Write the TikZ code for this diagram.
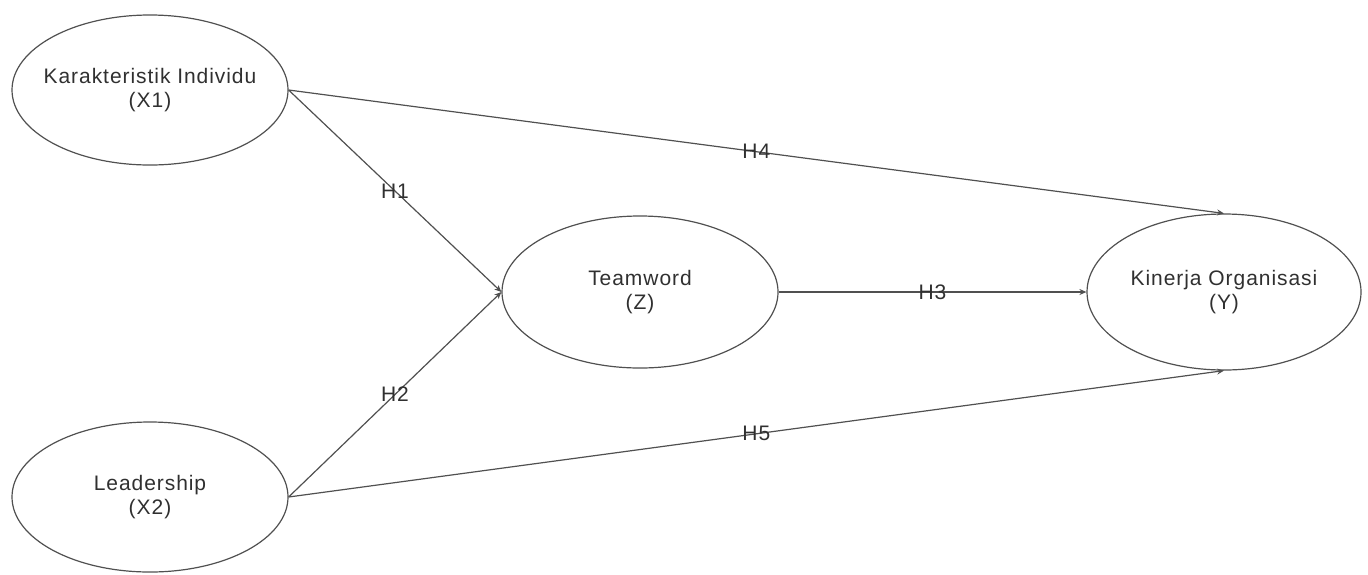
\documentclass[tikz,border=0pt]{standalone}
\usepackage{fontspec}
\setmainfont{Liberation Sans}[LetterSpace=4.5]
\usetikzlibrary{shapes.geometric,arrows.meta}
\definecolor{linec}{HTML}{505050}
\definecolor{textc}{HTML}{303030}
\begin{document}
\begin{tikzpicture}[x=0.5pt,y=-0.5pt,
  latent/.style={ellipse,draw=linec,line width=0.6pt,inner xsep=-14pt,inner ysep=0pt,
    minimum width=138pt,minimum height=75pt,align=center,
    font=\fontsize{10.5pt}{12pt}\selectfont,text=textc},
  path/.style={draw=linec,line width=0.6pt,-{Stealth[length=3.5pt,width=3pt]}},
  hlab/.style={font=\fontsize{10.5pt}{12pt}\selectfont,text=textc,inner sep=0pt}]
\useasboundingbox (0,0) rectangle (1368,574);
\node[latent] (X1) at (150,90) {Karakteristik Individu\\(X1)};
\node[latent] (X2) at (150,497) {Leadership\\(X2)};
\node[latent,minimum height=76pt] (Z) at (640,292) {Teamword\\(Z)};
\node[latent,minimum width=137pt,minimum height=78pt] (Y) at (1224,292) {Kinerja Organisasi\\(Y)};
\draw[path] (X1.east) -- node[hlab]{H1} (Z.west);
\draw[path] (X2.east) -- node[hlab]{H2} (Z.west);
\draw[path] (Z.east) -- node[hlab]{H3} (Y.west);
\draw[path] (X1.east) -- node[hlab]{H4} (Y.north);
\draw[path] (X2.east) -- node[hlab]{H5} (Y.south);
\end{tikzpicture}
\end{document}
